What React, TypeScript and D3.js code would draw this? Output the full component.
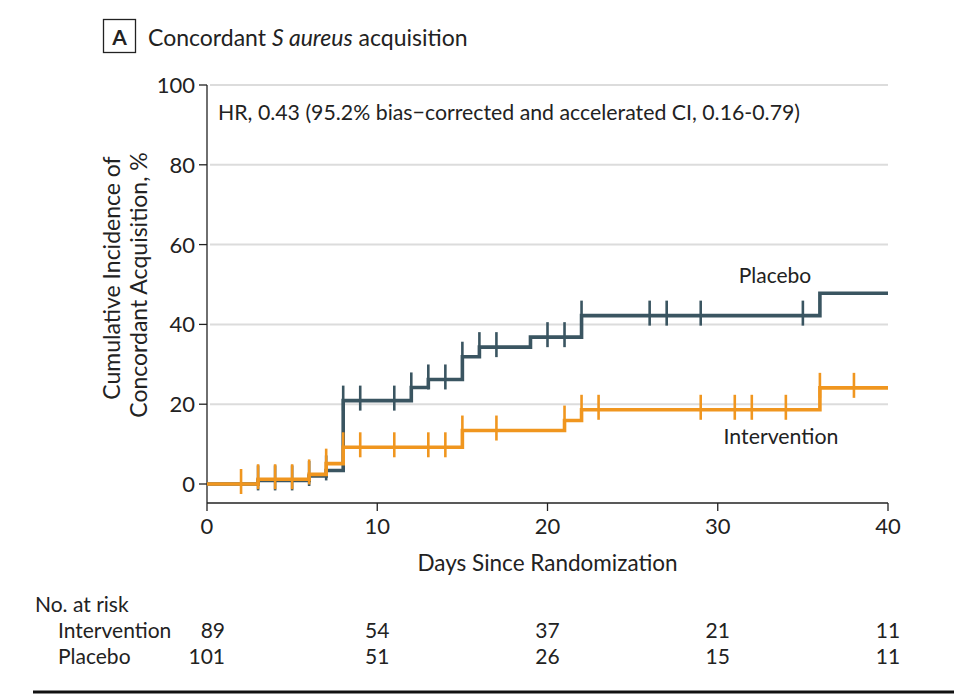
import * as d3 from "d3"

// Kaplan-Meier style cumulative incidence
const placeboTimes = [0, 3, 6, 7, 8, 12, 13, 15, 16, 19, 22, 36, 40]
const placeboCum = [0, 0.9, 2.0, 3.4, 20.9, 24.2, 26.2, 31.9, 34.3, 36.8, 42.2, 47.8, 47.8]
const placeboCensor = [3, 4, 5, 6, 7, 8, 9, 11, 12, 13, 14, 15, 16, 17, 20, 21, 22, 26, 27, 29, 35]

const interventionTimes = [0, 3, 6, 7, 8, 15, 21, 22, 36, 40]
const interventionCum = [0, 1.2, 2.4, 5.1, 9.2, 13.4, 15.9, 18.6, 24.1, 24.1]
const interventionCensor = [2, 3, 4, 5, 6, 7, 8, 9, 11, 13, 14, 15, 17, 21, 22, 23, 29, 31, 32, 34, 36, 38]

const xTicks = [0, 10, 20, 30, 40]
const yTicks = [0, 20, 40, 60, 80, 100]
const riskIntervention = [89, 54, 37, 21, 11]
const riskPlacebo = [101, 51, 26, 15, 11]

const PLACEBO = "#3a5561"
const INTERVENTION = "#f0961f"
const FONT = "Lato, 'Open Sans', sans-serif"

const x = d3.scaleLinear().domain([0, 40]).range([207, 888])
const y = d3.scaleLinear().domain([0, 100]).range([484, 85])

const stepLine = d3
  .line<[number, number]>()
  .x((d) => x(d[0]))
  .y((d) => y(d[1]))
  .curve(d3.curveStepAfter)

function valueAt(times: number[], vals: number[], t: number) {
  const i = d3.bisectRight(times, t) - 1
  return vals[Math.max(0, i)]
}

function Curve({ times, vals, censor, color }: { times: number[]; vals: number[]; censor: number[]; color: string }) {
  const pts = times.map((t, i) => [t, vals[i]] as [number, number])
  return (
    <g>
      <path d={stepLine(pts) || ""} fill="none" stroke={color} strokeWidth={3.6} strokeLinejoin="miter" strokeLinecap="butt" />
      {censor.map((t) => {
        const cy = y(valueAt(times, vals, t))
        return <line key={t} x1={x(t)} x2={x(t)} y1={cy - 15} y2={cy + 10} stroke={color} strokeWidth={2.6} />
      })}
    </g>
  )
}

export default function App() {
  const axisY = 503
  return (
    <svg width={954} height={700} style={{ position: "absolute", left: 0, top: 0, background: "#fff" }} fontFamily={FONT}>
      {/* panel title */}
      <rect x={103.5} y={19.5} width={32} height={33} fill="none" stroke="#222" strokeWidth={1.3} />
      <text x={119.5} y={45} textAnchor="middle" fontSize={21} fontWeight="bold" fill="#222">A</text>
      <text x={148} y={46} fontSize={23} fill="#222">
        Concordant <tspan fontStyle="italic">S aureus</tspan> acquisition
      </text>

      {/* gridlines */}
      {yTicks.filter((v) => v > 0).map((v) => (
        <line key={v} x1={210} x2={x(40)} y1={y(v)} y2={y(v)} stroke="#dcdcdc" strokeWidth={2} />
      ))}

      {/* y axis */}
      <line x1={x(0)} x2={x(0)} y1={y(100)} y2={axisY} stroke="#222" strokeWidth={1.3} />
      {yTicks.map((v) => (
        <g key={v}>
          <line x1={x(0) - 8} x2={x(0)} y1={y(v)} y2={y(v)} stroke="#222" strokeWidth={1.3} />
          <text x={x(0) - 12} y={y(v) + 8} textAnchor="end" fontSize={22} fill="#222">{v}</text>
        </g>
      ))}
      <text transform="translate(120,278) rotate(-90)" textAnchor="middle" fontSize={23} fill="#222">Cumulative Incidence of</text>
      <text transform="translate(147,285) rotate(-90)" textAnchor="middle" fontSize={23} fill="#222">Concordant Acquisition, %</text>

      {/* x axis */}
      <line x1={x(0)} x2={x(40)} y1={axisY} y2={axisY} stroke="#222" strokeWidth={1.3} />
      {xTicks.map((v) => (
        <g key={v}>
          <line x1={x(v)} x2={x(v)} y1={axisY} y2={axisY + 8} stroke="#222" strokeWidth={1.3} />
          <text x={x(v)} y={534} textAnchor="middle" fontSize={22} fill="#222">{v}</text>
        </g>
      ))}
      <text x={(x(0) + x(40)) / 2} y={571} textAnchor="middle" fontSize={22.5} fill="#222">Days Since Randomization</text>

      {/* curves */}
      <Curve times={placeboTimes} vals={placeboCum} censor={placeboCensor} color={PLACEBO} />
      <Curve times={interventionTimes} vals={interventionCum} censor={interventionCensor} color={INTERVENTION} />

      <text x={218} y={120} fontSize={21.3} fill="#222">HR, 0.43 (95.2% bias−corrected and accelerated CI, 0.16-0.79)</text>
      <text x={775} y={283} textAnchor="middle" fontSize={21} fill="#222">Placebo</text>
      <text x={781} y={444} textAnchor="middle" fontSize={21.3} fill="#222">Intervention</text>

      {/* number at risk */}
      <text x={35} y={612} fontSize={21} fill="#222">No. at risk</text>
      <text x={58} y={638} fontSize={21} fill="#222">Intervention</text>
      <text x={58} y={664} fontSize={21} fill="#222">Placebo</text>
      {xTicks.map((v, i) => (
        <g key={v}>
          <text x={i === 0 ? x(v) + 18 : x(v)} y={638} textAnchor={i === 0 ? "end" : "middle"} fontSize={21} fill="#222">{riskIntervention[i]}</text>
          <text x={i === 0 ? x(v) + 18 : x(v)} y={664} textAnchor={i === 0 ? "end" : "middle"} fontSize={21} fill="#222">{riskPlacebo[i]}</text>
        </g>
      ))}

      <line x1={33} x2={954} y1={692} y2={692} stroke="#111" strokeWidth={3} />
    </svg>
  )
}
